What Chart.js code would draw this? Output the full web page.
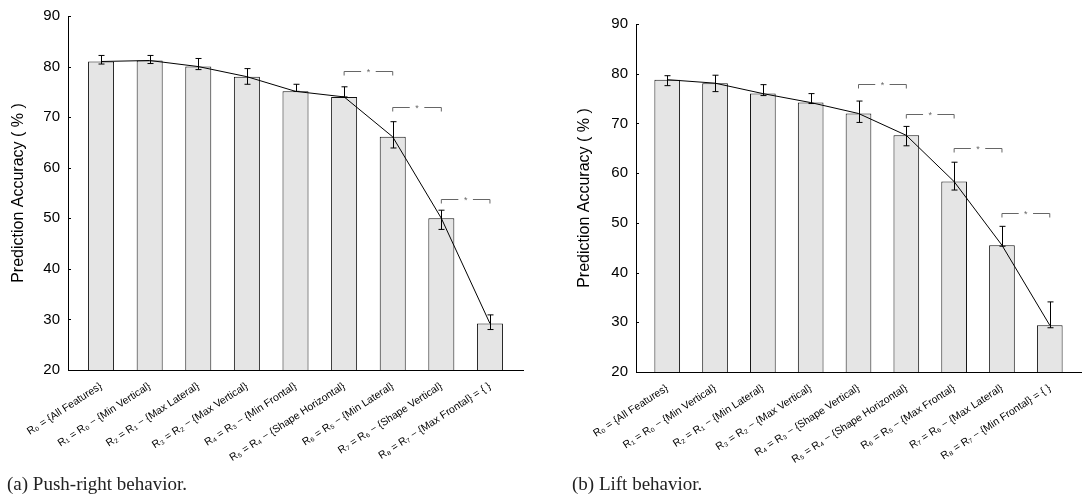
<!DOCTYPE html>
<html><head><meta charset="utf-8">
<script src="https://cdn.jsdelivr.net/npm/chart.js@4.4.1/dist/chart.umd.min.js"></script>
<style>
html,body{margin:0;padding:0;background:#fff;}
#wrap{position:relative;width:1092px;height:497px;overflow:hidden;background:#fff;}
.panel{position:absolute;top:0;width:546px;height:474px;}
.cap{position:absolute;top:474px;font-family:'Liberation Serif',serif;font-size:19px;color:#222;line-height:19px;white-space:nowrap;}
</style></head><body>
<div id="wrap">
  <div class="panel" style="left:0"><canvas id="c1"></canvas></div>
  <div class="panel" style="left:546px"><canvas id="c2"></canvas></div>
  <div class="cap" style="left:7px">(a) Push-right behavior.</div>
  <div class="cap" style="left:572px">(b) Lift behavior.</div>
</div>
<script>
const pushCategories = ['R₀ = {All Features}', 'R₁ = R₀ − {Min Vertical}', 'R₂ = R₁ − {Max Lateral}', 'R₃ = R₂ − {Max Vertical}', 'R₄ = R₃ − {Min Frontal}', 'R₅ = R₄ − {Shape Horizontal}', 'R₆ = R₅ − {Min Lateral}', 'R₇ = R₆ − {Shape Vertical}', 'R₈ = R₇ − {Max Frontal} = { }'];
const liftCategories = ['R₀ = {All Features}', 'R₁ = R₀ − {Min Vertical}', 'R₂ = R₁ − {Min Lateral}', 'R₃ = R₂ − {Max Vertical}', 'R₄ = R₃ − {Shape Vertical}', 'R₅ = R₄ − {Shape Horizontal}', 'R₆ = R₅ − {Max Frontal}', 'R₇ = R₆ − {Max Lateral}', 'R₈ = R₇ − {Min Frontal} = { }'];

const pushValues  = [81.0, 81.2, 80.0, 78.0, 75.1, 74.0, 66.1, 50.0, 29.2];
const pushErrHigh = [82.2, 82.2, 81.6, 79.6, 76.5, 76.0, 69.1, 51.6, 30.9];
const pushErrLow  = [80.5, 80.6, 79.4, 76.5, 75.1, 74.0, 63.9, 47.8, 28.0];

const liftValues  = [78.8, 78.1, 76.0, 74.2, 72.0, 67.6, 58.3, 45.5, 29.4];
const liftErrHigh = [79.6, 79.7, 77.8, 76.0, 74.5, 69.4, 62.2, 49.3, 34.1];
const liftErrLow  = [77.6, 76.4, 75.6, 74.0, 70.2, 65.5, 56.6, 45.3, 28.9];

const yTickValues = [20, 30, 40, 50, 60, 70, 80, 90];

const pushSigPairs  = [[5, 6], [6, 7], [7, 8]];
const pushSigLevels = [79.1, 72.0, 53.8];
const liftSigPairs  = [[4, 5], [5, 6], [6, 7], [7, 8]];
const liftSigLevels = [78.0, 71.9, 65.0, 52.0];

Chart.defaults.font.family = "'Liberation Sans', Arial, sans-serif";
Chart.defaults.color = '#000';

const overlay = {
  id: 'overlay',
  afterDatasetsDraw(chart, args, opts) {
    const ctx = chart.ctx, x = chart.scales.x, y = chart.scales.y, ca = chart.chartArea;
    ctx.save();
    ctx.strokeStyle = '#000';
    ctx.lineWidth = 1;
    opts.yTicks.forEach(v => {
      const py = Math.round(y.getPixelForValue(v)) + 0.5;
      ctx.beginPath(); ctx.moveTo(ca.left, py); ctx.lineTo(ca.left + 3, py); ctx.stroke();
    });
    opts.low.forEach((lo, i) => {
      const px = Math.round(x.getPixelForValue(i)) + 0.5;
      const pl = y.getPixelForValue(lo), ph = y.getPixelForValue(opts.high[i]);
      ctx.beginPath();
      ctx.moveTo(px, pl); ctx.lineTo(px, ph);
      ctx.moveTo(px - 3, ph); ctx.lineTo(px + 3, ph);
      ctx.moveTo(px - 3, pl); ctx.lineTo(px + 3, pl);
      ctx.stroke();
    });
    ctx.strokeStyle = '#666';
    ctx.fillStyle = '#666';
    ctx.font = "9px 'Liberation Sans', Arial, sans-serif";
    ctx.textAlign = 'center';
    ctx.textBaseline = 'middle';
    opts.pairs.forEach((p, k) => {
      const x1 = x.getPixelForValue(p[0]), x2 = x.getPixelForValue(p[1]);
      const py = Math.round(y.getPixelForValue(opts.levels[k])) + 0.5;
      const seg = (x2 - x1) * 0.35;
      ctx.beginPath();
      ctx.moveTo(x1, py + 4); ctx.lineTo(x1, py); ctx.lineTo(x1 + seg, py);
      ctx.moveTo(x2 - seg, py); ctx.lineTo(x2, py); ctx.lineTo(x2, py + 4);
      ctx.stroke();
      ctx.fillText('*', (x1 + x2) / 2, py + 1);
    });
    ctx.restore();
  }
};

function makeChart(id, cats, vals, lo, hi, pairs, levels, cfg) {
  const barData = vals.map((v, i) => ({ x: i, y: v }));
  return new Chart(document.getElementById(id), {
    type: 'bar',
    data: {
      datasets: [
        { type: 'line', data: barData, borderColor: '#000', borderWidth: 1, pointRadius: 0, tension: 0, order: 0 },
        { type: 'bar', data: barData, backgroundColor: '#e5e5e5', borderColor: '#111', borderWidth: 1,
          barPercentage: cfg.barPct, categoryPercentage: 1, order: 1 }
      ]
    },
    options: {
      responsive: true, maintainAspectRatio: false, animation: false,
      layout: { padding: { left: cfg.padLeft, right: cfg.padRight, top: cfg.padTop, bottom: 0 } },
      plugins: {
        legend: { display: false }, tooltip: { enabled: false },
        overlay: { low: lo, high: hi, pairs: pairs, levels: levels, yTicks: yTickValues }
      },
      scales: {
        x: {
          type: 'linear', min: cfg.xMin, max: cfg.xMax, offset: false,
          grid: { display: false, offset: false },
          border: { display: true, color: '#000', width: 1 },
          afterBuildTicks: s => { s.ticks = cats.map((_, i) => ({ value: i })); },
          afterFit: s => { s.height = cfg.xHeight; },
          ticks: {
            autoSkip: false, minRotation: 33, maxRotation: 33, padding: 2,
            font: { size: 10.5 },
            callback: v => cats[v]
          }
        },
        y: {
          min: 20, max: 90,
          grid: { display: false },
          border: { display: true, color: '#000', width: 1 },
          afterBuildTicks: s => { s.ticks = yTickValues.map(v => ({ value: v })); },
          afterFit: s => { s.width = cfg.yWidth; },
          ticks: { padding: 0, font: { size: 15 } },
          title: { display: true, text: 'Prediction Accuracy ( % )', font: { size: 16 }, padding: { top: cfg.titlePad, bottom: 0 } }
        }
      }
    },
    plugins: [overlay]
  });
}

makeChart('c1', pushCategories, pushValues, pushErrLow, pushErrHigh, pushSigPairs, pushSigLevels,
  { padLeft: 5, padRight: 23, padTop: 16, yWidth: 63, xHeight: 104, xMin: -0.68, xMax: 8.68, barPct: 0.535, titlePad: 4 });
makeChart('c2', liftCategories, liftValues, liftErrLow, liftErrHigh, liftSigPairs, liftSigLevels,
  { padLeft: 27, padRight: 11, padTop: 24, yWidth: 63, xHeight: 102, xMin: -0.653, xMax: 8.653, barPct: 0.537, titlePad: 2 });
</script>
</body></html>
